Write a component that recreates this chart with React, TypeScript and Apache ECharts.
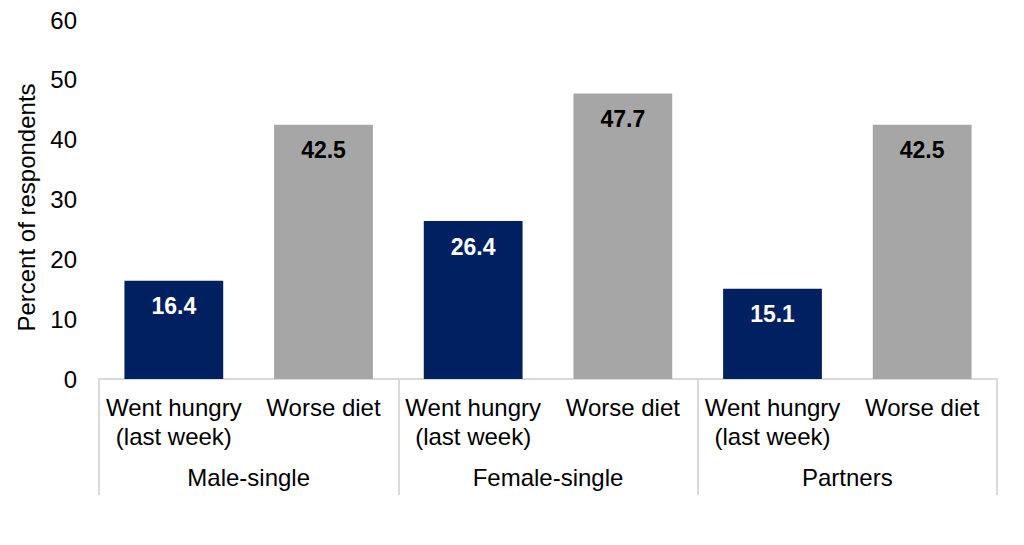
import React, { useEffect, useRef } from "react";
import * as echarts from "echarts";

const groups = ["Male-single", "Female-single", "Partners"];
const measures = ["Went hungry\n(last week)", "Worse diet"];
const values = [16.4, 42.5, 26.4, 47.7, 15.1, 42.5];
const barColors = ["#002060", "#A6A6A6"];
const labelColors = ["#FFFFFF", "#000000"];
const yTicks = { min: 0, max: 60, interval: 10 };

export default function App() {
  const ref = useRef<HTMLDivElement>(null);
  useEffect(() => {
    document.body.style.margin = "0";
    const chart = echarts.init(ref.current!, null, { renderer: "svg" });
    const cats: string[] = [];
    groups.forEach(() => measures.forEach((m) => cats.push(m)));
    const font = "'Liberation Sans', Arial, sans-serif";
    chart.setOption({
      animation: false,
      grid: { left: 99, right: 27, top: 20, bottom: 166, outerBoundsMode: "none", containLabel: false },
      xAxis: [
        {
          type: "category",
          data: cats,
          position: "bottom",
          axisLine: { show: true, lineStyle: { color: "#D9D9D9", width: 2 } },
          axisTick: { show: false },
          axisLabel: {
            interval: 0,
            color: "#000",
            fontFamily: font,
            fontSize: 24,
            lineHeight: 29,
            margin: 14,
          },
        },
        {
          type: "category",
          data: groups,
          position: "bottom",
          offset: 0,
          axisLine: { show: false },
          axisTick: { show: true, length: 116, lineStyle: { color: "#D9D9D9", width: 2 } },
          axisLabel: {
            interval: 0,
            color: "#000",
            fontFamily: font,
            fontSize: 24,
            margin: 86,
          },
        },
      ],
      yAxis: {
        type: "value",
        min: yTicks.min,
        max: yTicks.max,
        interval: yTicks.interval,
        name: "Percent of respondents",
        nameLocation: "middle",
        nameRotate: 90,
        nameGap: 61,
        nameTextStyle: { color: "#000", fontFamily: font, fontSize: 24, padding: [0, 16, 0, 0] },
        axisLine: { show: false },
        axisTick: { show: false },
        splitLine: { show: false },
        axisLabel: { color: "#000", fontFamily: font, fontSize: 24, margin: 22 },
      },
      series: [
        {
          type: "bar",
          xAxisIndex: 0,
          barWidth: "66%",
          data: values.map((v, i) => ({
            value: v,
            itemStyle: { color: barColors[i % 2] },
            label: { color: labelColors[i % 2] },
          })),
          label: {
            show: true,
            position: "insideTop",
            distance: 14,
            fontFamily: font,
            fontSize: 23,
            fontWeight: "bold",
            formatter: (p: any) => p.value.toFixed(1),
          },
        },
      ],
    });
    return () => chart.dispose();
  }, []);
  return <div ref={ref} style={{ width: 1024, height: 545 }} />;
}
